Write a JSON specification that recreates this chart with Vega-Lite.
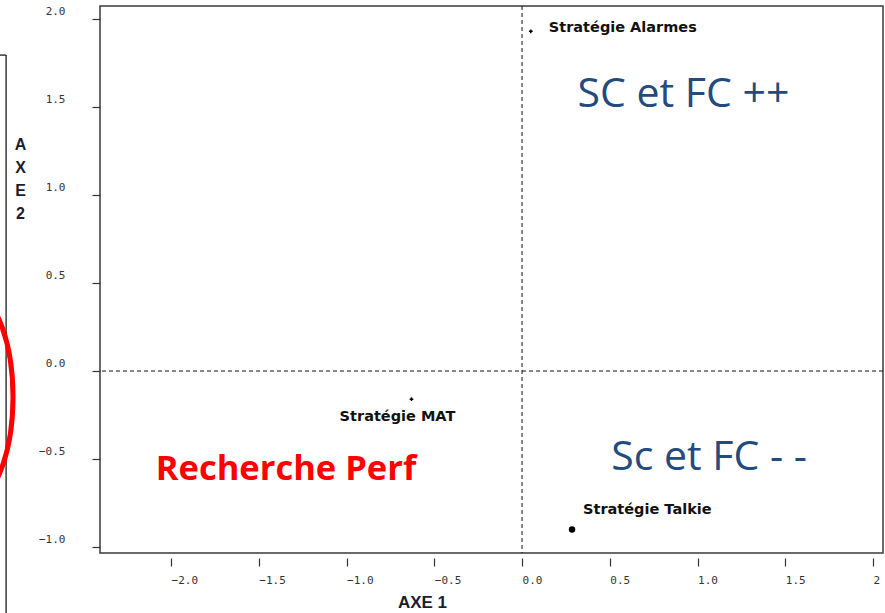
{
  "$schema": "https://vega.github.io/schema/vega-lite/v6.json",
  "width": 783,
  "height": 547,
  "autosize": {"type": "none"},
  "padding": {"left": 100, "top": 6, "right": 2, "bottom": 60},
  "background": "white",
  "config": {"view": {"stroke": "#3a3a3a", "strokeWidth": 1.5}},
  "datasets": {
    "points": [
      {"name": "Stratégie Alarmes", "x": 0.05, "y": 1.93},
      {"name": "Stratégie MAT", "x": -0.63, "y": -0.16},
      {"name": "Stratégie Talkie", "x": 0.285, "y": -0.9}
    ],
    "blue": [
      {"text": "SC et FC ++", "x": 0.92, "y": 1.5},
      {"text": "Sc et FC - -", "x": 1.066, "y": -0.5625}
    ],
    "red": [
      {"text": "Recherche Perf", "x": -1.345, "y": -0.619}
    ],
    "frame": [
      {"x": -2.94, "x2": -2.94, "y": 1.795, "y2": -1.45},
      {"x": -2.98, "x2": -2.94, "y": 1.795, "y2": 1.795}
    ],
    "ellipse": [
      {"x": -3.174, "y": -0.148}
    ]
  },
  "layer": [
    {
      "data": {"values": [{"x": 0}]},
      "mark": {"type": "rule", "color": "#111", "strokeWidth": 1, "strokeDash": [4, 3]},
      "encoding": {
        "x": {"field": "x", "type": "quantitative", "scale": {"domain": [-2.405, 2.057], "nice": false, "zero": false}}
      }
    },
    {
      "data": {"values": [{"y": 0}]},
      "mark": {"type": "rule", "color": "#111", "strokeWidth": 1, "strokeDash": [4, 3]},
      "encoding": {
        "y": {"field": "y", "type": "quantitative", "scale": {"domain": [-1.034, 2.074], "nice": false, "zero": false}}
      }
    },
    {
      "data": {"name": "points"},
      "transform": [{"filter": "datum.name != 'Stratégie Talkie'"}],
      "mark": {"type": "point", "shape": "cross", "filled": true, "color": "#000", "opacity": 1, "size": 14},
      "encoding": {
        "x": {
          "field": "x", "type": "quantitative",
          "scale": {"domain": [-2.405, 2.057], "nice": false, "zero": false},
          "axis": {
            "values": [-2, -1.5, -1, -0.5, 0, 0.5, 1, 1.5, 2],
            "labelExpr": "datum.value == 2 ? '2' : format(datum.value, '.1f')",
            "domain": false,
            "grid": false,
            "offset": 5,
            "tickSize": 8,
            "tickColor": "#333",
            "tickWidth": 1.2,
            "labelAlign": "left",
            "labelBaseline": "top",
            "labelPadding": 8,
            "labelFont": "DejaVu Sans Mono",
            "labelFontSize": 11,
            "labelColor": "#333",
            "labelFlush": false,
            "labelOverlap": false,
            "title": "AXE 1",
            "titleFont": "Liberation Sans",
            "titleFontSize": 17,
            "titleFontWeight": "bold",
            "titleColor": "#1c1c30",
            "titleX": 322,
            "titleY": 44,
            "titleAlign": "center",
            "titleBaseline": "middle"
          }
        },
        "y": {
          "field": "y", "type": "quantitative",
          "scale": {"domain": [-1.034, 2.074], "nice": false, "zero": false},
          "axis": {
            "values": [-1, -0.5, 0, 0.5, 1, 1.5, 2],
            "format": ".1f",
            "domain": false,
            "grid": false,
            "tickSize": 8,
            "tickColor": "#333",
            "tickWidth": 1.2,
            "labelAlign": "right",
            "labelBaseline": "middle",
            "labelPadding": 27,
            "labelOffset": -8,
            "labelFont": "DejaVu Sans Mono",
            "labelFontSize": 11,
            "labelColor": "#333",
            "labelFlush": false,
            "labelOverlap": false,
            "title": ["A", "X", "E", "2"],
            "titleAngle": 0,
            "titleFont": "Liberation Sans",
            "titleFontSize": 16,
            "titleFontWeight": "bold",
            "titleColor": "#1c1c30",
            "titleLineHeight": 23,
            "titleX": -80,
            "titleY": 130,
            "titleAlign": "center",
            "titleBaseline": "top"
          }
        }
      }
    },
    {
      "data": {"name": "points"},
      "transform": [{"filter": "datum.name == 'Stratégie Talkie'"}],
      "mark": {"type": "point", "shape": "circle", "filled": true, "color": "#000", "opacity": 1, "size": 42},
      "encoding": {
        "x": {"field": "x", "type": "quantitative"},
        "y": {"field": "y", "type": "quantitative"}
      }
    },
    {
      "data": {"name": "points"},
      "transform": [{"filter": "datum.name == 'Stratégie Alarmes'"}],
      "mark": {"type": "text", "font": "DejaVu Sans", "fontWeight": "bold", "fontSize": 14.5, "color": "#111", "align": "left", "baseline": "middle", "dx": 18, "dy": -3},
      "encoding": {
        "x": {"field": "x", "type": "quantitative"},
        "y": {"field": "y", "type": "quantitative"},
        "text": {"field": "name"}
      }
    },
    {
      "data": {"name": "points"},
      "transform": [{"filter": "datum.name == 'Stratégie MAT'"}],
      "mark": {"type": "text", "font": "DejaVu Sans", "fontWeight": "bold", "fontSize": 14.5, "color": "#111", "align": "center", "baseline": "middle", "dx": -14, "dy": 18},
      "encoding": {
        "x": {"field": "x", "type": "quantitative"},
        "y": {"field": "y", "type": "quantitative"},
        "text": {"field": "name"}
      }
    },
    {
      "data": {"name": "points"},
      "transform": [{"filter": "datum.name == 'Stratégie Talkie'"}],
      "mark": {"type": "text", "font": "DejaVu Sans", "fontWeight": "bold", "fontSize": 14.5, "color": "#111", "align": "left", "baseline": "middle", "dx": 11, "dy": -19},
      "encoding": {
        "x": {"field": "x", "type": "quantitative"},
        "y": {"field": "y", "type": "quantitative"},
        "text": {"field": "name"}
      }
    },
    {
      "data": {"name": "blue"},
      "mark": {"type": "text", "font": "Open Sans", "fontSize": 41, "color": "#234B7D", "align": "center", "baseline": "alphabetic"},
      "encoding": {
        "x": {"field": "x", "type": "quantitative"},
        "y": {"field": "y", "type": "quantitative"},
        "text": {"field": "text"}
      }
    },
    {
      "data": {"name": "red"},
      "mark": {"type": "text", "font": "Open Sans", "fontSize": 34.5, "fontWeight": "bold", "color": "#FF0000", "align": "center", "baseline": "alphabetic"},
      "encoding": {
        "x": {"field": "x", "type": "quantitative"},
        "y": {"field": "y", "type": "quantitative"},
        "text": {"field": "text"}
      }
    },
    {
      "data": {"name": "frame"},
      "mark": {"type": "rule", "color": "#3a3a3a", "strokeWidth": 1.5, "clip": false},
      "encoding": {
        "x": {"field": "x", "type": "quantitative"},
        "x2": {"field": "x2"},
        "y": {"field": "y", "type": "quantitative"},
        "y2": {"field": "y2"}
      }
    },
    {
      "data": {"name": "ellipse"},
      "mark": {
        "type": "point",
        "filled": false,
        "stroke": "#FF0000",
        "strokeWidth": 5,
        "opacity": 1,
        "size": 48400,
        "clip": false,
        "shape": "M 0.436 0 C 0.436 0.5523 0.2408 1 0 1 C -0.2408 1 -0.436 0.5523 -0.436 0 C -0.436 -0.5523 -0.2408 -1 0 -1 C 0.2408 -1 0.436 -0.5523 0.436 0 Z"
      },
      "encoding": {
        "x": {"field": "x", "type": "quantitative"},
        "y": {"field": "y", "type": "quantitative"}
      }
    }
  ]
}
